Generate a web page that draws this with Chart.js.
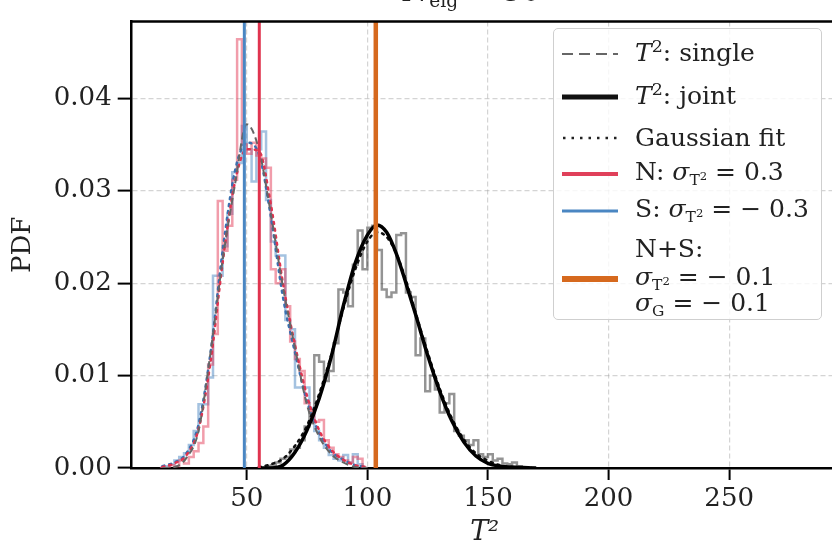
<!DOCTYPE html>
<html>
<head>
<meta charset="utf-8">
<script src="https://cdn.jsdelivr.net/npm/chart.js@4.4.1/dist/chart.umd.min.js"></script>
<style>
  html,body{margin:0;padding:0;background:#fff;overflow:hidden;}
  #wrap{position:relative;width:832px;height:543px;overflow:hidden;}
  #c{position:absolute;left:0;top:0;}
  #title{position:absolute;left:403px;top:-24px;font-family:"DejaVu Serif";font-size:30px;line-height:30px;color:#222;white-space:nowrap;}
  #legend{position:absolute;left:553px;top:28px;width:269px;height:292px;box-sizing:border-box;
    background:rgba(255,255,255,0.8);border:1px solid #cfcfcf;border-radius:5px;
    font-family:"DejaVu Serif";font-size:25px;color:#222;}
  .row{position:absolute;left:0;height:0;width:100%;}
  .row svg{position:absolute;left:7px;top:-6px;}
  .row span{position:absolute;left:81px;top:0;transform:translateY(-50%);white-space:nowrap;line-height:28px;}
  sup.s{font-size:0.7em;position:relative;top:-0.5em;vertical-align:baseline;}
  sub.s{font-size:0.62em;position:relative;top:0.3em;vertical-align:baseline;}
  sub.s sup{font-size:0.75em;position:relative;top:-0.4em;vertical-align:baseline;}
</style>
</head>
<body>
<div id="wrap">
  <canvas id="c" width="860" height="543"></canvas>
  <div id="title"><i>N</i><sub class="s">eig</sub> = 50</div>
  <div id="legend">
    <div class="row" style="top:25px"><svg width="58" height="12"><line x1="1" y1="6" x2="57" y2="6" stroke="#666" stroke-width="2" stroke-dasharray="11,6"/></svg><span><i>T</i><sup class="s">2</sup>: single</span></div>
    <div class="row" style="top:68px"><svg width="58" height="12"><line x1="1" y1="6" x2="57" y2="6" stroke="#111" stroke-width="5"/></svg><span><i>T</i><sup class="s">2</sup>: joint</span></div>
    <div class="row" style="top:109px"><svg width="58" height="12"><line x1="2" y1="6" x2="57" y2="6" stroke="#222" stroke-width="2.5" stroke-dasharray="2.5,6"/></svg><span>Gaussian fit</span></div>
    <div class="row" style="top:145px"><svg width="58" height="12"><line x1="1" y1="6" x2="57" y2="6" stroke="#e0405a" stroke-width="4"/></svg><span>N: <i>σ</i><sub class="s">T<sup>2</sup></sub> = 0.3</span></div>
    <div class="row" style="top:182px"><svg width="58" height="12"><line x1="1" y1="6" x2="57" y2="6" stroke="#4a86c2" stroke-width="3"/></svg><span>S: <i>σ</i><sub class="s">T<sup>2</sup></sub> = − 0.3</span></div>
    <div class="row" style="top:220px"><span>N+S:</span></div>
    <div class="row" style="top:250px"><svg width="58" height="12"><line x1="1" y1="6" x2="57" y2="6" stroke="#d6691e" stroke-width="6"/></svg><span><i>σ</i><sub class="s">T<sup>2</sup></sub> = − 0.1</span></div>
    <div class="row" style="top:275px"><span><i>σ</i><sub class="s">G</sub> = − 0.1</span></div>
  </div>
</div>
<script>
// ---------------- DATA ----------------
// step histograms (bin width 2), values = PDF per bin
const singleBinStart = 14;
const jointBinStart = 56;
const binWidth = 2;

const nHist = [0,0,0.0003,0.0002,0.0008,0.0005,0.0012,0.0018,0.0027,0.0045,
  0.0112,0.0145,0.0289,0.0235,0.0262,0.0312,0.0464,0.0350,0.0340,0.0352,
  0.0338,0.0335,0.0325,0.0215,0.0200,0.0215,0.0175,0.0137,0.0118,0.0105,
  0.0070,0.0062,0.0050,0.0052,0.0030,0.0022,0.0015,0.0012,0.0008,0.0006,
  0.0012,0.0010,0];

const sHist = [0,0.0002,0.0004,0.0008,0.0012,0.0016,0.0025,0.0040,0.0069,0.0069,
  0.0098,0.0208,0.0208,0.0240,0.0275,0.0320,0.0330,0.0370,0.0345,0.0310,
  0.0345,0.0364,0.0290,0.0245,0.0230,0.0230,0.0160,0.0150,0.0087,0.0087,
  0.0087,0.0065,0.0040,0.0030,0.0022,0.0014,0.0010,0.0008,0.0014,0.0006,
  0.0015,0.0004,0];

const jointHist = [0,0.0002,0.0003,0.0006,0.0010,0.0012,0.0020,0.0022,0.0030,0.0045,
  0.0060,0.0122,0.0115,0.0094,0.0105,0.0135,0.0193,0.0190,0.0175,0.0220,
  0.0257,0.0215,0.0260,0.0262,0.0236,0.0193,0.0185,0.0190,0.0252,0.0254,
  0.0190,0.0185,0.0122,0.0140,0.0083,0.0100,0.0085,0.0060,0.0070,0.0080,
  0.0040,0.0035,0.0030,0.0025,0.0030,0.0015,0.0012,0.0015,0.0008,0.0010,
  0.0005,0.0004,0.0006,0.0002,0];

// smooth curves
const leftX = [15,20,25,30,35,40,45,50,55,60,65,70,75,80,85,90,95,100];
const singleCurve = [0,0.0001,0.0011,0.0040,0.0125,0.0225,0.0305,0.0372,0.0345,0.0275,0.0196,0.0130,0.0068,0.0034,0.0015,0.0006,0.0001,0];
const nFit = [0.0001,0.0005,0.0014,0.0042,0.0115,0.0222,0.0308,0.0345,0.0343,0.0285,0.0200,0.0133,0.0078,0.0041,0.0020,0.0009,0.0003,0.0001];
const sFit = [0.0002,0.0006,0.0016,0.0047,0.0125,0.0235,0.0320,0.0352,0.0340,0.0272,0.0185,0.0125,0.0072,0.0038,0.0018,0.0009,0.0003,0.0001];

const jointX = [55,60,65,70,75,80,85,90,95,100,104,108,112,116,120,125,130,135,140,145,150,155,160,170];
const jointCurve = [0,0,0.0003,0.0017,0.0041,0.0075,0.0120,0.0175,0.0222,0.0252,0.0263,0.0255,0.0232,0.0200,0.0166,0.0122,0.0083,0.0051,0.0028,0.0013,0.0005,0.0002,0.0001,0];
const jointFit = [0.0001,0.0004,0.0010,0.0024,0.0046,0.0080,0.0122,0.0172,0.0215,0.0245,0.0255,0.0250,0.0232,0.0203,0.0168,0.0125,0.0086,0.0054,0.0031,0.0016,0.0008,0.0003,0.0001,0];

// vertical markers: N, S, N+S
const markerX = [55.2, 49.0, 103.5];
const markerColors = ["#e0344f","#4a86c2","#d6691e"];
const markerWidths = [3, 3, 4.5];

const xMin = 2.3, xMax = 295;
const yMin = 0, yMax = 0.0483;
const xTickStep = 50, yTickStep = 0.01;

// ---------------- HELPERS ----------------
function histPoints(start, vals){
  const pts = vals.map((v,i) => ({x: start + i*binWidth, y: v}));
  pts.push({x: start + vals.length*binWidth, y: 0});
  return pts;
}
function curvePoints(xs, ys){
  return xs.map((x,i) => ({x: x, y: ys[i]}));
}

const datasets = [];

markerX.forEach((x,i) => {
  datasets.push({
    data:[{x:x,y:yMin},{x:x,y:yMax+0.01}],
    borderColor: markerColors[i], borderWidth: markerWidths[i],
    pointRadius:0, order:0
  });
});

datasets.push({data: curvePoints(jointX, jointCurve), borderColor:"#000", borderWidth:3.5,
  pointRadius:0, cubicInterpolationMode:"monotone", order:1});
datasets.push({data: curvePoints(jointX, jointFit), borderColor:"#111", borderWidth:2.5,
  borderDash:[2,5], borderCapStyle:"round", pointRadius:0, cubicInterpolationMode:"monotone", order:1});
datasets.push({data: curvePoints(leftX, singleCurve), borderColor:"#666", borderWidth:2,
  borderDash:[7,4], pointRadius:0, cubicInterpolationMode:"monotone", order:1});
datasets.push({data: curvePoints(leftX, nFit), borderColor:"#e0344f", borderWidth:2.5,
  borderDash:[2,5], borderCapStyle:"round", pointRadius:0, cubicInterpolationMode:"monotone", order:1});
datasets.push({data: curvePoints(leftX, sFit), borderColor:"#3a70b0", borderWidth:2.5,
  borderDash:[2,5], borderCapStyle:"round", pointRadius:0, cubicInterpolationMode:"monotone", order:1});

datasets.push({data: histPoints(singleBinStart, nHist), borderColor:"rgba(228,60,88,0.5)", borderWidth:2.5,
  stepped:"before", pointRadius:0, order:2});
datasets.push({data: histPoints(singleBinStart, sHist), borderColor:"rgba(74,134,194,0.5)", borderWidth:2.5,
  stepped:"before", pointRadius:0, order:2});
datasets.push({data: histPoints(jointBinStart, jointHist), borderColor:"rgba(0,0,0,0.42)", borderWidth:2.5,
  stepped:"before", pointRadius:0, order:2});

// top spine (Chart.js has no top border of its own)
const topSpine = {
  id:"topSpine",
  afterDatasetsDraw(chart){
    const a = chart.chartArea, ctx = chart.ctx;
    ctx.save();
    ctx.strokeStyle = "#000";
    ctx.lineWidth = 2.5;
    ctx.beginPath();
    ctx.moveTo(a.left - 1.25, a.top);
    ctx.lineTo(a.right, a.top);
    ctx.stroke();
    ctx.restore();
  }
};

const tickFont = {family:"DejaVu Serif", size:26};

new Chart(document.getElementById("c"), {
  type:"line",
  data:{datasets: datasets},
  plugins:[topSpine],
  options:{
    responsive:false,
    animation:false,
    devicePixelRatio:1,
    layout:{padding:{top:15, right:22.3, left:0, bottom:0}},
    plugins:{legend:{display:false}, tooltip:{enabled:false}},
    elements:{line:{fill:false}},
    scales:{
      x:{
        type:"linear", min:xMin, max:xMax,
        afterFit: s => { s.height = 75; },
        ticks:{stepSize:xTickStep, includeBounds:false, autoSkip:false, maxRotation:0,
          font:tickFont, color:"#222", padding:4},
        grid:{color:"rgba(170,170,170,0.5)", lineWidth:1.2, tickColor:"#000", tickWidth:2, tickLength:12},
        border:{color:"#000", width:2.5, dash:[5,3]},
        title:{display:true, text:"T²", font:{family:"DejaVu Serif", size:27, style:"italic"},
          color:"#222", padding:{top:0,bottom:-6}}
      },
      y:{
        min:yMin, max:yMax,
        afterFit: s => { s.width = 131.7; },
        ticks:{stepSize:yTickStep, includeBounds:false, font:tickFont, color:"#222", padding:6,
          callback: v => v.toFixed(2)},
        grid:{color:"rgba(170,170,170,0.5)", lineWidth:1.2, tickColor:"#000", tickWidth:2, tickLength:14},
        border:{color:"#000", width:2.5, dash:[5,3]},
        title:{display:true, text:"PDF", font:{family:"DejaVu Serif", size:26}, color:"#222",
          padding:{top:8,bottom:0}}
      }
    }
  }
});
</script>
</body>
</html>
